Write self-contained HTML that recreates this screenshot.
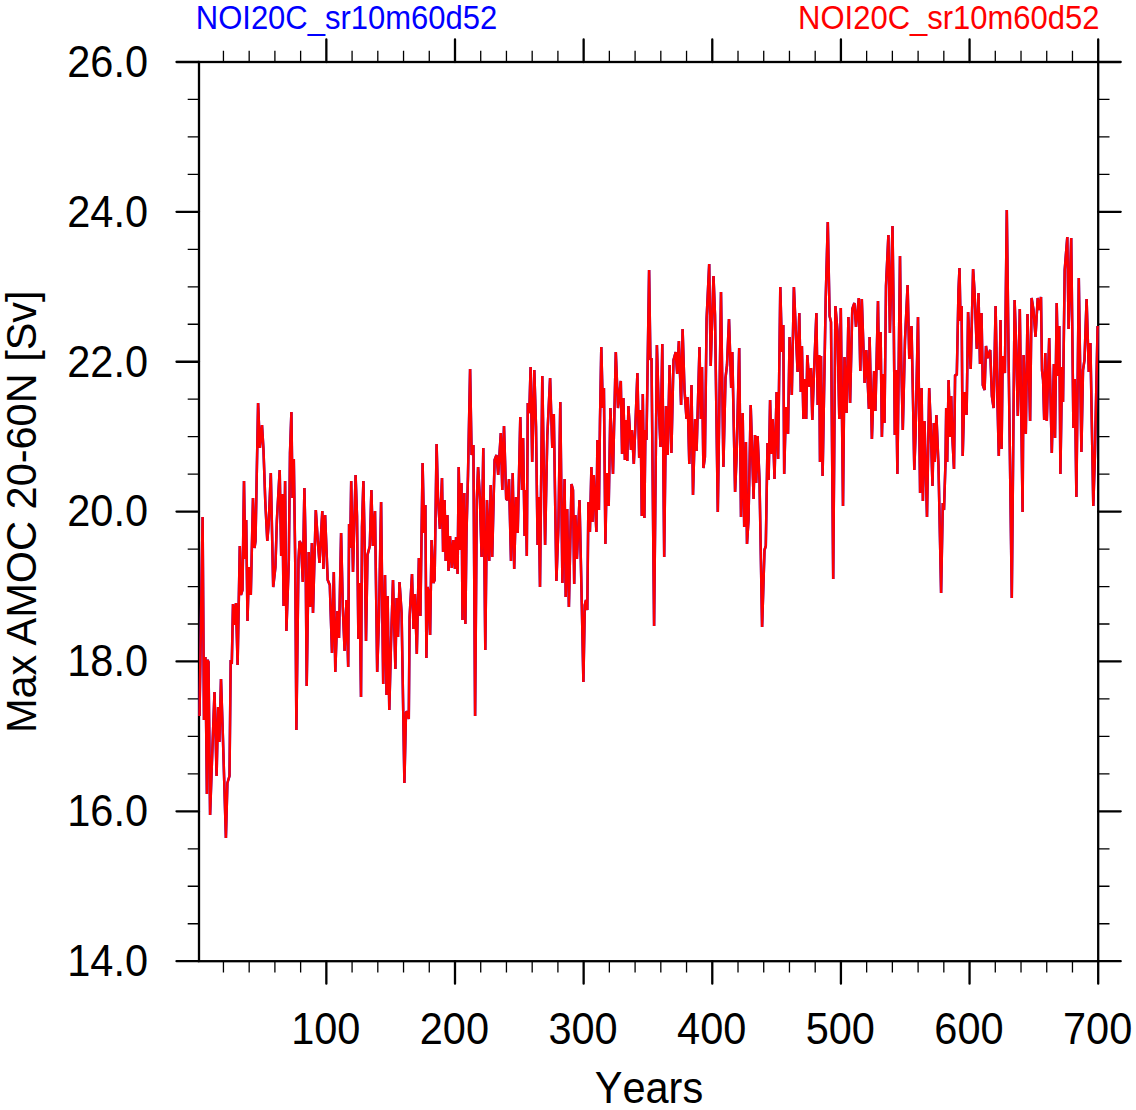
<!DOCTYPE html>
<html><head><meta charset="utf-8"><style>
html,body{margin:0;padding:0;background:#fff;}
svg{display:block;}
text{font-family:"Liberation Sans", sans-serif;font-kerning:none;}
</style></head><body>
<svg width="1136" height="1110" viewBox="0 0 1136 1110">
<rect width="1136" height="1110" fill="#fff"/>
<rect x="199.0" y="62.0" width="899.2" height="899.2" fill="none" stroke="#000" stroke-width="2.3"/><path d="M223.44 961.2v11.3M223.44 62.0v-11.3M249.17 961.2v11.3M249.17 62.0v-11.3M274.90 961.2v11.3M274.90 62.0v-11.3M300.63 961.2v11.3M300.63 62.0v-11.3M352.08 961.2v11.3M352.08 62.0v-11.3M377.81 961.2v11.3M377.81 62.0v-11.3M403.54 961.2v11.3M403.54 62.0v-11.3M429.27 961.2v11.3M429.27 62.0v-11.3M480.72 961.2v11.3M480.72 62.0v-11.3M506.45 961.2v11.3M506.45 62.0v-11.3M532.18 961.2v11.3M532.18 62.0v-11.3M557.91 961.2v11.3M557.91 62.0v-11.3M609.36 961.2v11.3M609.36 62.0v-11.3M635.09 961.2v11.3M635.09 62.0v-11.3M660.82 961.2v11.3M660.82 62.0v-11.3M686.55 961.2v11.3M686.55 62.0v-11.3M738.01 961.2v11.3M738.01 62.0v-11.3M763.73 961.2v11.3M763.73 62.0v-11.3M789.46 961.2v11.3M789.46 62.0v-11.3M815.19 961.2v11.3M815.19 62.0v-11.3M866.65 961.2v11.3M866.65 62.0v-11.3M892.37 961.2v11.3M892.37 62.0v-11.3M918.10 961.2v11.3M918.10 62.0v-11.3M943.83 961.2v11.3M943.83 62.0v-11.3M995.29 961.2v11.3M995.29 62.0v-11.3M1021.02 961.2v11.3M1021.02 62.0v-11.3M1046.74 961.2v11.3M1046.74 62.0v-11.3M1072.47 961.2v11.3M1072.47 62.0v-11.3M199.0 923.73h-11.3M1098.2 923.73h11.3M199.0 886.27h-11.3M1098.2 886.27h11.3M199.0 848.80h-11.3M1098.2 848.80h11.3M199.0 773.87h-11.3M1098.2 773.87h11.3M199.0 736.40h-11.3M1098.2 736.40h11.3M199.0 698.93h-11.3M1098.2 698.93h11.3M199.0 624.00h-11.3M1098.2 624.00h11.3M199.0 586.53h-11.3M1098.2 586.53h11.3M199.0 549.07h-11.3M1098.2 549.07h11.3M199.0 474.13h-11.3M1098.2 474.13h11.3M199.0 436.67h-11.3M1098.2 436.67h11.3M199.0 399.20h-11.3M1098.2 399.20h11.3M199.0 324.27h-11.3M1098.2 324.27h11.3M199.0 286.80h-11.3M1098.2 286.80h11.3M199.0 249.33h-11.3M1098.2 249.33h11.3M199.0 174.40h-11.3M1098.2 174.40h11.3M199.0 136.93h-11.3M1098.2 136.93h11.3M199.0 99.47h-11.3M1098.2 99.47h11.3" stroke="#000" stroke-width="1.3" fill="none"/><path d="M326.35 961.2v22.5M326.35 62.0v-22.5M455.00 961.2v22.5M455.00 62.0v-22.5M583.64 961.2v22.5M583.64 62.0v-22.5M712.28 961.2v22.5M712.28 62.0v-22.5M840.92 961.2v22.5M840.92 62.0v-22.5M969.56 961.2v22.5M969.56 62.0v-22.5M1098.20 961.2v22.5M1098.20 62.0v-22.5M199.0 961.20h-22.5M1098.2 961.20h22.5M199.0 811.33h-22.5M1098.2 811.33h22.5M199.0 661.47h-22.5M1098.2 661.47h22.5M199.0 511.60h-22.5M1098.2 511.60h22.5M199.0 361.73h-22.5M1098.2 361.73h22.5M199.0 211.87h-22.5M1098.2 211.87h22.5M199.0 62.00h-22.5M1098.2 62.00h22.5" stroke="#000" stroke-width="2.3" fill="none" stroke-linecap="round"/><path d="M199.5 716.0 202.6 517.0 204.0 720.0 205.4 657.0 206.9 794.0 207.3 660.0 208.5 662.0 210.1 815.0 212.0 760.0 214.5 692.0 216.6 776.0 218.1 707.0 219.4 742.0 221.0 679.0 223.0 740.0 225.9 838.0 227.4 783.0 229.5 776.0 230.7 660.0 231.8 664.0 233.0 604.0 234.5 625.0 236.0 603.0 237.6 665.0 239.8 546.0 241.0 595.0 242.5 590.0 244.0 481.0 245.2 559.0 246.2 520.0 247.5 621.0 249.0 567.0 250.8 595.0 253.0 498.0 254.5 548.0 255.5 541.0 258.1 403.0 259.9 448.0 262.0 425.0 263.5 450.0 265.3 502.0 267.3 541.0 268.7 524.0 270.8 473.0 273.2 587.0 275.4 567.0 276.9 520.0 279.7 470.0 281.2 556.0 282.3 494.0 283.6 606.0 285.1 481.0 286.4 631.0 288.8 561.0 290.0 453.0 291.4 412.0 292.5 498.0 293.8 459.0 295.2 560.0 296.4 730.0 298.5 560.0 299.6 541.0 301.1 544.0 302.8 582.0 304.4 488.0 305.5 540.0 306.7 686.0 308.7 552.0 310.2 607.0 311.9 543.0 313.0 613.0 315.8 510.0 317.8 541.0 319.5 563.0 322.3 511.0 323.4 569.0 325.1 515.0 327.7 580.0 329.8 585.0 332.0 653.0 333.8 572.0 335.3 672.0 337.4 611.0 339.0 638.0 341.1 533.0 342.8 607.0 344.6 651.0 346.5 600.0 348.2 667.0 349.1 524.0 350.2 548.0 351.2 481.0 353.0 572.0 355.6 475.0 357.0 516.0 358.4 639.0 359.5 583.0 361.0 697.0 362.0 527.0 363.4 481.0 364.8 552.0 366.0 641.0 367.5 555.0 369.8 546.0 371.4 490.0 372.9 546.0 375.0 511.0 377.2 672.0 379.0 617.0 381.1 502.0 383.2 684.0 385.0 575.0 386.5 695.0 387.6 596.0 389.3 710.0 391.0 643.0 393.0 580.0 395.4 669.0 396.6 598.0 398.0 637.0 399.5 582.0 401.6 613.0 404.4 783.0 406.0 712.0 407.5 712.0 408.8 719.0 409.6 617.0 412.0 574.0 413.5 629.0 415.0 594.0 416.8 654.0 418.9 558.0 420.4 616.0 422.6 463.0 424.1 533.0 425.4 505.0 426.4 658.0 427.6 587.0 428.6 592.0 430.1 635.0 431.6 540.0 433.4 583.0 434.6 580.0 436.6 444.0 438.0 498.0 439.9 529.0 442.0 478.0 443.1 552.0 444.6 500.0 445.7 561.0 447.4 515.0 448.5 571.0 450.0 536.0 451.8 568.0 453.3 540.0 455.0 569.0 456.1 537.0 457.6 574.0 458.7 467.0 460.4 550.0 461.5 483.0 462.5 620.0 464.3 493.0 465.4 624.0 466.5 533.0 468.0 475.0 470.1 369.0 471.6 455.0 473.4 445.0 475.1 716.0 476.8 500.0 478.1 467.0 479.9 498.0 481.6 557.0 483.3 448.0 485.3 650.0 487.0 500.0 489.2 561.0 490.7 485.0 492.2 557.0 494.6 460.0 496.5 455.0 498.2 475.0 500.8 433.0 502.3 490.0 504.0 426.0 506.2 499.0 507.6 500.0 509.0 479.0 511.0 561.0 512.7 473.0 514.2 569.0 516.0 497.0 517.7 533.0 520.3 417.0 522.0 490.0 523.1 438.0 524.6 536.0 525.7 490.0 526.8 556.0 527.8 403.0 529.3 413.0 530.6 367.0 532.2 462.0 534.3 370.0 536.0 426.0 537.6 545.0 538.7 497.0 540.0 587.0 542.3 376.0 545.1 545.0 547.3 436.0 550.1 378.0 552.3 448.0 553.8 414.0 556.4 581.0 558.4 527.0 560.3 402.0 562.4 583.0 564.6 479.0 565.7 597.0 567.2 509.0 568.9 607.0 571.5 484.0 573.0 490.0 574.2 584.0 575.4 515.0 576.9 559.0 579.5 500.0 581.5 590.0 583.4 682.0 584.8 605.0 586.0 600.0 587.3 610.0 588.4 502.0 589.9 532.0 591.4 467.0 592.5 522.0 593.8 475.0 596.4 532.0 597.4 440.0 598.9 510.0 600.0 420.0 601.3 347.0 602.8 408.0 603.9 388.0 605.4 544.0 606.7 473.0 608.7 506.0 610.4 408.0 613.0 474.0 615.8 352.0 618.0 408.0 620.8 381.0 622.1 454.0 623.4 398.0 624.9 460.0 626.0 420.0 627.3 461.0 628.4 406.0 631.0 450.0 632.0 430.0 633.8 464.0 635.5 423.0 637.4 373.0 639.2 458.0 640.5 410.0 641.8 516.0 642.8 394.0 644.4 518.0 645.4 430.0 646.5 440.0 649.1 270.0 650.4 360.0 651.5 358.0 654.1 626.0 656.9 345.0 658.5 400.0 660.5 447.0 662.3 344.0 664.2 557.0 666.0 406.0 667.7 455.0 669.6 365.0 671.4 453.0 673.5 360.0 675.7 352.0 677.2 374.0 678.9 341.0 681.1 405.0 682.6 329.0 684.5 390.0 686.5 419.0 687.6 397.0 689.3 464.0 691.5 385.0 693.0 495.0 695.1 419.0 696.6 451.0 699.5 347.0 700.8 419.0 702.0 367.0 703.4 468.0 704.9 457.0 706.6 319.0 709.2 264.0 710.7 366.0 713.5 276.0 715.0 315.0 717.8 512.0 721.0 292.0 723.4 467.0 725.5 378.0 727.0 365.0 729.0 319.0 731.2 388.0 732.3 352.0 735.1 492.0 736.6 456.0 739.2 348.0 741.0 517.0 742.7 413.0 744.2 527.0 745.9 442.0 747.0 544.0 748.5 520.0 750.7 405.0 753.6 499.0 755.0 435.0 756.2 483.0 757.6 436.0 759.5 480.0 762.1 627.0 764.5 550.0 765.8 546.0 767.5 443.0 768.6 480.0 770.1 400.0 771.4 454.0 772.7 419.0 774.5 479.0 776.6 392.0 778.1 459.0 780.3 287.0 782.0 352.0 783.3 325.0 784.2 474.0 785.9 407.0 788.0 434.0 789.6 337.0 791.8 395.0 793.9 287.0 797.6 372.0 799.3 313.0 800.8 392.0 801.9 346.0 803.4 419.0 804.8 379.0 806.2 419.0 807.3 355.0 809.5 387.0 811.0 368.0 812.3 420.0 813.8 378.0 816.4 313.0 817.7 405.0 819.2 355.0 820.0 462.0 821.0 356.0 822.6 476.0 825.7 299.0 827.8 222.0 829.6 316.0 831.0 322.0 833.2 579.0 835.4 306.0 837.5 331.0 839.3 419.0 840.8 308.0 843.0 506.0 844.5 357.0 846.6 413.0 848.4 317.0 850.1 403.0 852.3 309.0 854.4 303.0 856.0 327.0 858.8 298.0 860.3 371.0 861.8 299.0 864.6 383.0 866.3 350.0 868.9 409.0 869.6 337.0 871.9 439.0 874.1 371.0 875.4 411.0 878.0 301.0 879.0 370.0 880.6 332.0 881.9 437.0 883.4 374.0 884.5 423.0 886.0 286.0 888.4 235.0 889.9 333.0 892.5 226.0 893.8 326.0 894.8 435.0 896.0 370.0 897.4 474.0 900.0 256.0 901.2 359.0 902.8 430.0 905.0 340.0 907.6 285.0 909.3 359.0 911.5 326.0 913.0 400.0 914.3 470.0 915.5 436.0 918.0 317.0 920.1 493.0 921.6 388.0 922.9 501.0 924.5 421.0 927.0 517.0 929.2 388.0 930.5 420.0 932.5 486.0 933.8 423.0 934.8 462.0 936.4 415.0 938.5 466.0 941.1 593.0 942.8 503.0 944.0 510.0 945.5 462.0 946.2 408.0 947.2 462.0 948.6 380.0 950.2 437.0 951.2 396.0 952.5 440.0 954.0 469.0 955.1 375.0 956.8 375.0 958.5 290.0 959.5 268.0 960.5 321.0 961.6 306.0 962.7 456.0 964.4 392.0 966.6 415.0 968.1 312.0 970.7 369.0 973.1 269.0 974.5 291.0 976.8 349.0 978.5 293.0 980.0 364.0 981.5 313.0 982.8 385.0 984.6 390.0 986.0 346.0 987.5 358.0 990.2 350.0 991.9 396.0 993.6 408.0 995.6 306.0 997.3 395.0 998.8 456.0 1000.5 320.0 1001.6 449.0 1002.7 356.0 1004.9 373.0 1006.8 210.0 1008.8 373.0 1011.8 598.0 1014.6 300.0 1016.0 340.0 1017.8 416.0 1019.8 309.0 1022.6 512.0 1023.6 355.0 1025.8 434.0 1027.5 314.0 1030.1 421.0 1031.6 298.0 1033.5 310.0 1035.5 337.0 1037.7 298.0 1039.0 310.0 1041.0 297.0 1042.0 370.0 1043.1 380.0 1044.2 420.0 1045.3 353.0 1046.8 421.0 1049.2 338.0 1051.8 453.0 1053.9 364.0 1055.0 438.0 1056.7 303.0 1058.2 376.0 1059.3 326.0 1060.4 474.0 1062.1 367.0 1063.0 402.0 1064.7 270.0 1067.3 237.0 1068.6 329.0 1071.2 238.0 1073.4 428.0 1074.8 379.0 1076.4 497.0 1078.8 278.0 1081.4 452.0 1083.0 370.0 1084.5 360.0 1086.6 299.0 1088.8 372.0 1090.4 343.0 1093.3 506.0 1094.9 456.0 1097.6 326.0" stroke="#0000FF" stroke-width="2.5" fill="none" stroke-linejoin="bevel"/><path d="M199.5 716.0 202.6 517.0 204.0 720.0 205.4 657.0 206.9 794.0 207.3 660.0 208.5 662.0 210.1 815.0 212.0 760.0 214.5 692.0 216.6 776.0 218.1 707.0 219.4 742.0 221.0 679.0 223.0 740.0 225.9 838.0 227.4 783.0 229.5 776.0 230.7 660.0 231.8 664.0 233.0 604.0 234.5 625.0 236.0 603.0 237.6 665.0 239.8 546.0 241.0 595.0 242.5 590.0 244.0 481.0 245.2 559.0 246.2 520.0 247.5 621.0 249.0 567.0 250.8 595.0 253.0 498.0 254.5 548.0 255.5 541.0 258.1 403.0 259.9 448.0 262.0 425.0 263.5 450.0 265.3 502.0 267.3 541.0 268.7 524.0 270.8 473.0 273.2 587.0 275.4 567.0 276.9 520.0 279.7 470.0 281.2 556.0 282.3 494.0 283.6 606.0 285.1 481.0 286.4 631.0 288.8 561.0 290.0 453.0 291.4 412.0 292.5 498.0 293.8 459.0 295.2 560.0 296.4 730.0 298.5 560.0 299.6 541.0 301.1 544.0 302.8 582.0 304.4 488.0 305.5 540.0 306.7 686.0 308.7 552.0 310.2 607.0 311.9 543.0 313.0 613.0 315.8 510.0 317.8 541.0 319.5 563.0 322.3 511.0 323.4 569.0 325.1 515.0 327.7 580.0 329.8 585.0 332.0 653.0 333.8 572.0 335.3 672.0 337.4 611.0 339.0 638.0 341.1 533.0 342.8 607.0 344.6 651.0 346.5 600.0 348.2 667.0 349.1 524.0 350.2 548.0 351.2 481.0 353.0 572.0 355.6 475.0 357.0 516.0 358.4 639.0 359.5 583.0 361.0 697.0 362.0 527.0 363.4 481.0 364.8 552.0 366.0 641.0 367.5 555.0 369.8 546.0 371.4 490.0 372.9 546.0 375.0 511.0 377.2 672.0 379.0 617.0 381.1 502.0 383.2 684.0 385.0 575.0 386.5 695.0 387.6 596.0 389.3 710.0 391.0 643.0 393.0 580.0 395.4 669.0 396.6 598.0 398.0 637.0 399.5 582.0 401.6 613.0 404.4 783.0 406.0 712.0 407.5 712.0 408.8 719.0 409.6 617.0 412.0 574.0 413.5 629.0 415.0 594.0 416.8 654.0 418.9 558.0 420.4 616.0 422.6 463.0 424.1 533.0 425.4 505.0 426.4 658.0 427.6 587.0 428.6 592.0 430.1 635.0 431.6 540.0 433.4 583.0 434.6 580.0 436.6 444.0 438.0 498.0 439.9 529.0 442.0 478.0 443.1 552.0 444.6 500.0 445.7 561.0 447.4 515.0 448.5 571.0 450.0 536.0 451.8 568.0 453.3 540.0 455.0 569.0 456.1 537.0 457.6 574.0 458.7 467.0 460.4 550.0 461.5 483.0 462.5 620.0 464.3 493.0 465.4 624.0 466.5 533.0 468.0 475.0 470.1 369.0 471.6 455.0 473.4 445.0 475.1 716.0 476.8 500.0 478.1 467.0 479.9 498.0 481.6 557.0 483.3 448.0 485.3 650.0 487.0 500.0 489.2 561.0 490.7 485.0 492.2 557.0 494.6 460.0 496.5 455.0 498.2 475.0 500.8 433.0 502.3 490.0 504.0 426.0 506.2 499.0 507.6 500.0 509.0 479.0 511.0 561.0 512.7 473.0 514.2 569.0 516.0 497.0 517.7 533.0 520.3 417.0 522.0 490.0 523.1 438.0 524.6 536.0 525.7 490.0 526.8 556.0 527.8 403.0 529.3 413.0 530.6 367.0 532.2 462.0 534.3 370.0 536.0 426.0 537.6 545.0 538.7 497.0 540.0 587.0 542.3 376.0 545.1 545.0 547.3 436.0 550.1 378.0 552.3 448.0 553.8 414.0 556.4 581.0 558.4 527.0 560.3 402.0 562.4 583.0 564.6 479.0 565.7 597.0 567.2 509.0 568.9 607.0 571.5 484.0 573.0 490.0 574.2 584.0 575.4 515.0 576.9 559.0 579.5 500.0 581.5 590.0 583.4 682.0 584.8 605.0 586.0 600.0 587.3 610.0 588.4 502.0 589.9 532.0 591.4 467.0 592.5 522.0 593.8 475.0 596.4 532.0 597.4 440.0 598.9 510.0 600.0 420.0 601.3 347.0 602.8 408.0 603.9 388.0 605.4 544.0 606.7 473.0 608.7 506.0 610.4 408.0 613.0 474.0 615.8 352.0 618.0 408.0 620.8 381.0 622.1 454.0 623.4 398.0 624.9 460.0 626.0 420.0 627.3 461.0 628.4 406.0 631.0 450.0 632.0 430.0 633.8 464.0 635.5 423.0 637.4 373.0 639.2 458.0 640.5 410.0 641.8 516.0 642.8 394.0 644.4 518.0 645.4 430.0 646.5 440.0 649.1 270.0 650.4 360.0 651.5 358.0 654.1 626.0 656.9 345.0 658.5 400.0 660.5 447.0 662.3 344.0 664.2 557.0 666.0 406.0 667.7 455.0 669.6 365.0 671.4 453.0 673.5 360.0 675.7 352.0 677.2 374.0 678.9 341.0 681.1 405.0 682.6 329.0 684.5 390.0 686.5 419.0 687.6 397.0 689.3 464.0 691.5 385.0 693.0 495.0 695.1 419.0 696.6 451.0 699.5 347.0 700.8 419.0 702.0 367.0 703.4 468.0 704.9 457.0 706.6 319.0 709.2 264.0 710.7 366.0 713.5 276.0 715.0 315.0 717.8 512.0 721.0 292.0 723.4 467.0 725.5 378.0 727.0 365.0 729.0 319.0 731.2 388.0 732.3 352.0 735.1 492.0 736.6 456.0 739.2 348.0 741.0 517.0 742.7 413.0 744.2 527.0 745.9 442.0 747.0 544.0 748.5 520.0 750.7 405.0 753.6 499.0 755.0 435.0 756.2 483.0 757.6 436.0 759.5 480.0 762.1 627.0 764.5 550.0 765.8 546.0 767.5 443.0 768.6 480.0 770.1 400.0 771.4 454.0 772.7 419.0 774.5 479.0 776.6 392.0 778.1 459.0 780.3 287.0 782.0 352.0 783.3 325.0 784.2 474.0 785.9 407.0 788.0 434.0 789.6 337.0 791.8 395.0 793.9 287.0 797.6 372.0 799.3 313.0 800.8 392.0 801.9 346.0 803.4 419.0 804.8 379.0 806.2 419.0 807.3 355.0 809.5 387.0 811.0 368.0 812.3 420.0 813.8 378.0 816.4 313.0 817.7 405.0 819.2 355.0 820.0 462.0 821.0 356.0 822.6 476.0 825.7 299.0 827.8 222.0 829.6 316.0 831.0 322.0 833.2 579.0 835.4 306.0 837.5 331.0 839.3 419.0 840.8 308.0 843.0 506.0 844.5 357.0 846.6 413.0 848.4 317.0 850.1 403.0 852.3 309.0 854.4 303.0 856.0 327.0 858.8 298.0 860.3 371.0 861.8 299.0 864.6 383.0 866.3 350.0 868.9 409.0 869.6 337.0 871.9 439.0 874.1 371.0 875.4 411.0 878.0 301.0 879.0 370.0 880.6 332.0 881.9 437.0 883.4 374.0 884.5 423.0 886.0 286.0 888.4 235.0 889.9 333.0 892.5 226.0 893.8 326.0 894.8 435.0 896.0 370.0 897.4 474.0 900.0 256.0 901.2 359.0 902.8 430.0 905.0 340.0 907.6 285.0 909.3 359.0 911.5 326.0 913.0 400.0 914.3 470.0 915.5 436.0 918.0 317.0 920.1 493.0 921.6 388.0 922.9 501.0 924.5 421.0 927.0 517.0 929.2 388.0 930.5 420.0 932.5 486.0 933.8 423.0 934.8 462.0 936.4 415.0 938.5 466.0 941.1 593.0 942.8 503.0 944.0 510.0 945.5 462.0 946.2 408.0 947.2 462.0 948.6 380.0 950.2 437.0 951.2 396.0 952.5 440.0 954.0 469.0 955.1 375.0 956.8 375.0 958.5 290.0 959.5 268.0 960.5 321.0 961.6 306.0 962.7 456.0 964.4 392.0 966.6 415.0 968.1 312.0 970.7 369.0 973.1 269.0 974.5 291.0 976.8 349.0 978.5 293.0 980.0 364.0 981.5 313.0 982.8 385.0 984.6 390.0 986.0 346.0 987.5 358.0 990.2 350.0 991.9 396.0 993.6 408.0 995.6 306.0 997.3 395.0 998.8 456.0 1000.5 320.0 1001.6 449.0 1002.7 356.0 1004.9 373.0 1006.8 210.0 1008.8 373.0 1011.8 598.0 1014.6 300.0 1016.0 340.0 1017.8 416.0 1019.8 309.0 1022.6 512.0 1023.6 355.0 1025.8 434.0 1027.5 314.0 1030.1 421.0 1031.6 298.0 1033.5 310.0 1035.5 337.0 1037.7 298.0 1039.0 310.0 1041.0 297.0 1042.0 370.0 1043.1 380.0 1044.2 420.0 1045.3 353.0 1046.8 421.0 1049.2 338.0 1051.8 453.0 1053.9 364.0 1055.0 438.0 1056.7 303.0 1058.2 376.0 1059.3 326.0 1060.4 474.0 1062.1 367.0 1063.0 402.0 1064.7 270.0 1067.3 237.0 1068.6 329.0 1071.2 238.0 1073.4 428.0 1074.8 379.0 1076.4 497.0 1078.8 278.0 1081.4 452.0 1083.0 370.0 1084.5 360.0 1086.6 299.0 1088.8 372.0 1090.4 343.0 1093.3 506.0 1094.9 456.0 1097.6 326.0" stroke="#FF0000" stroke-width="2.5" fill="none" stroke-linejoin="bevel"/>
<g font-size="41.5" fill="#000"><text transform="translate(148.00 976.00) scale(1 1.06)" text-anchor="end">14.0</text><text transform="translate(148.00 826.13) scale(1 1.06)" text-anchor="end">16.0</text><text transform="translate(148.00 676.27) scale(1 1.06)" text-anchor="end">18.0</text><text transform="translate(148.00 526.40) scale(1 1.06)" text-anchor="end">20.0</text><text transform="translate(148.00 376.53) scale(1 1.06)" text-anchor="end">22.0</text><text transform="translate(148.00 226.67) scale(1 1.06)" text-anchor="end">24.0</text><text transform="translate(148.00 76.80) scale(1 1.06)" text-anchor="end">26.0</text><text transform="translate(325.75 1043.90) scale(1 1.06)" text-anchor="middle">100</text><text transform="translate(454.40 1043.90) scale(1 1.06)" text-anchor="middle">200</text><text transform="translate(583.04 1043.90) scale(1 1.06)" text-anchor="middle">300</text><text transform="translate(711.68 1043.90) scale(1 1.06)" text-anchor="middle">400</text><text transform="translate(840.32 1043.90) scale(1 1.06)" text-anchor="middle">500</text><text transform="translate(968.96 1043.90) scale(1 1.06)" text-anchor="middle">600</text><text transform="translate(1097.60 1043.90) scale(1 1.06)" text-anchor="middle">700</text>
<text transform="translate(649.00 1103.00) scale(1 1.06)" text-anchor="middle">Years</text>
<text transform="translate(35.6 511.7) rotate(-90) scale(1 1.03)" text-anchor="middle" style="font-kerning:normal">Max AMOC 20-60N [Sv]</text>
</g>
<g font-size="31" fill="#0000FF"><text transform="translate(195.80 28.80) scale(1 1.08)" text-anchor="start">NOI20C_sr10m60d52</text></g>
<g font-size="31" fill="#FF0000"><text transform="translate(1099.50 28.80) scale(1 1.08)" text-anchor="end">NOI20C_sr10m60d52</text></g>
</svg>
</body></html>
